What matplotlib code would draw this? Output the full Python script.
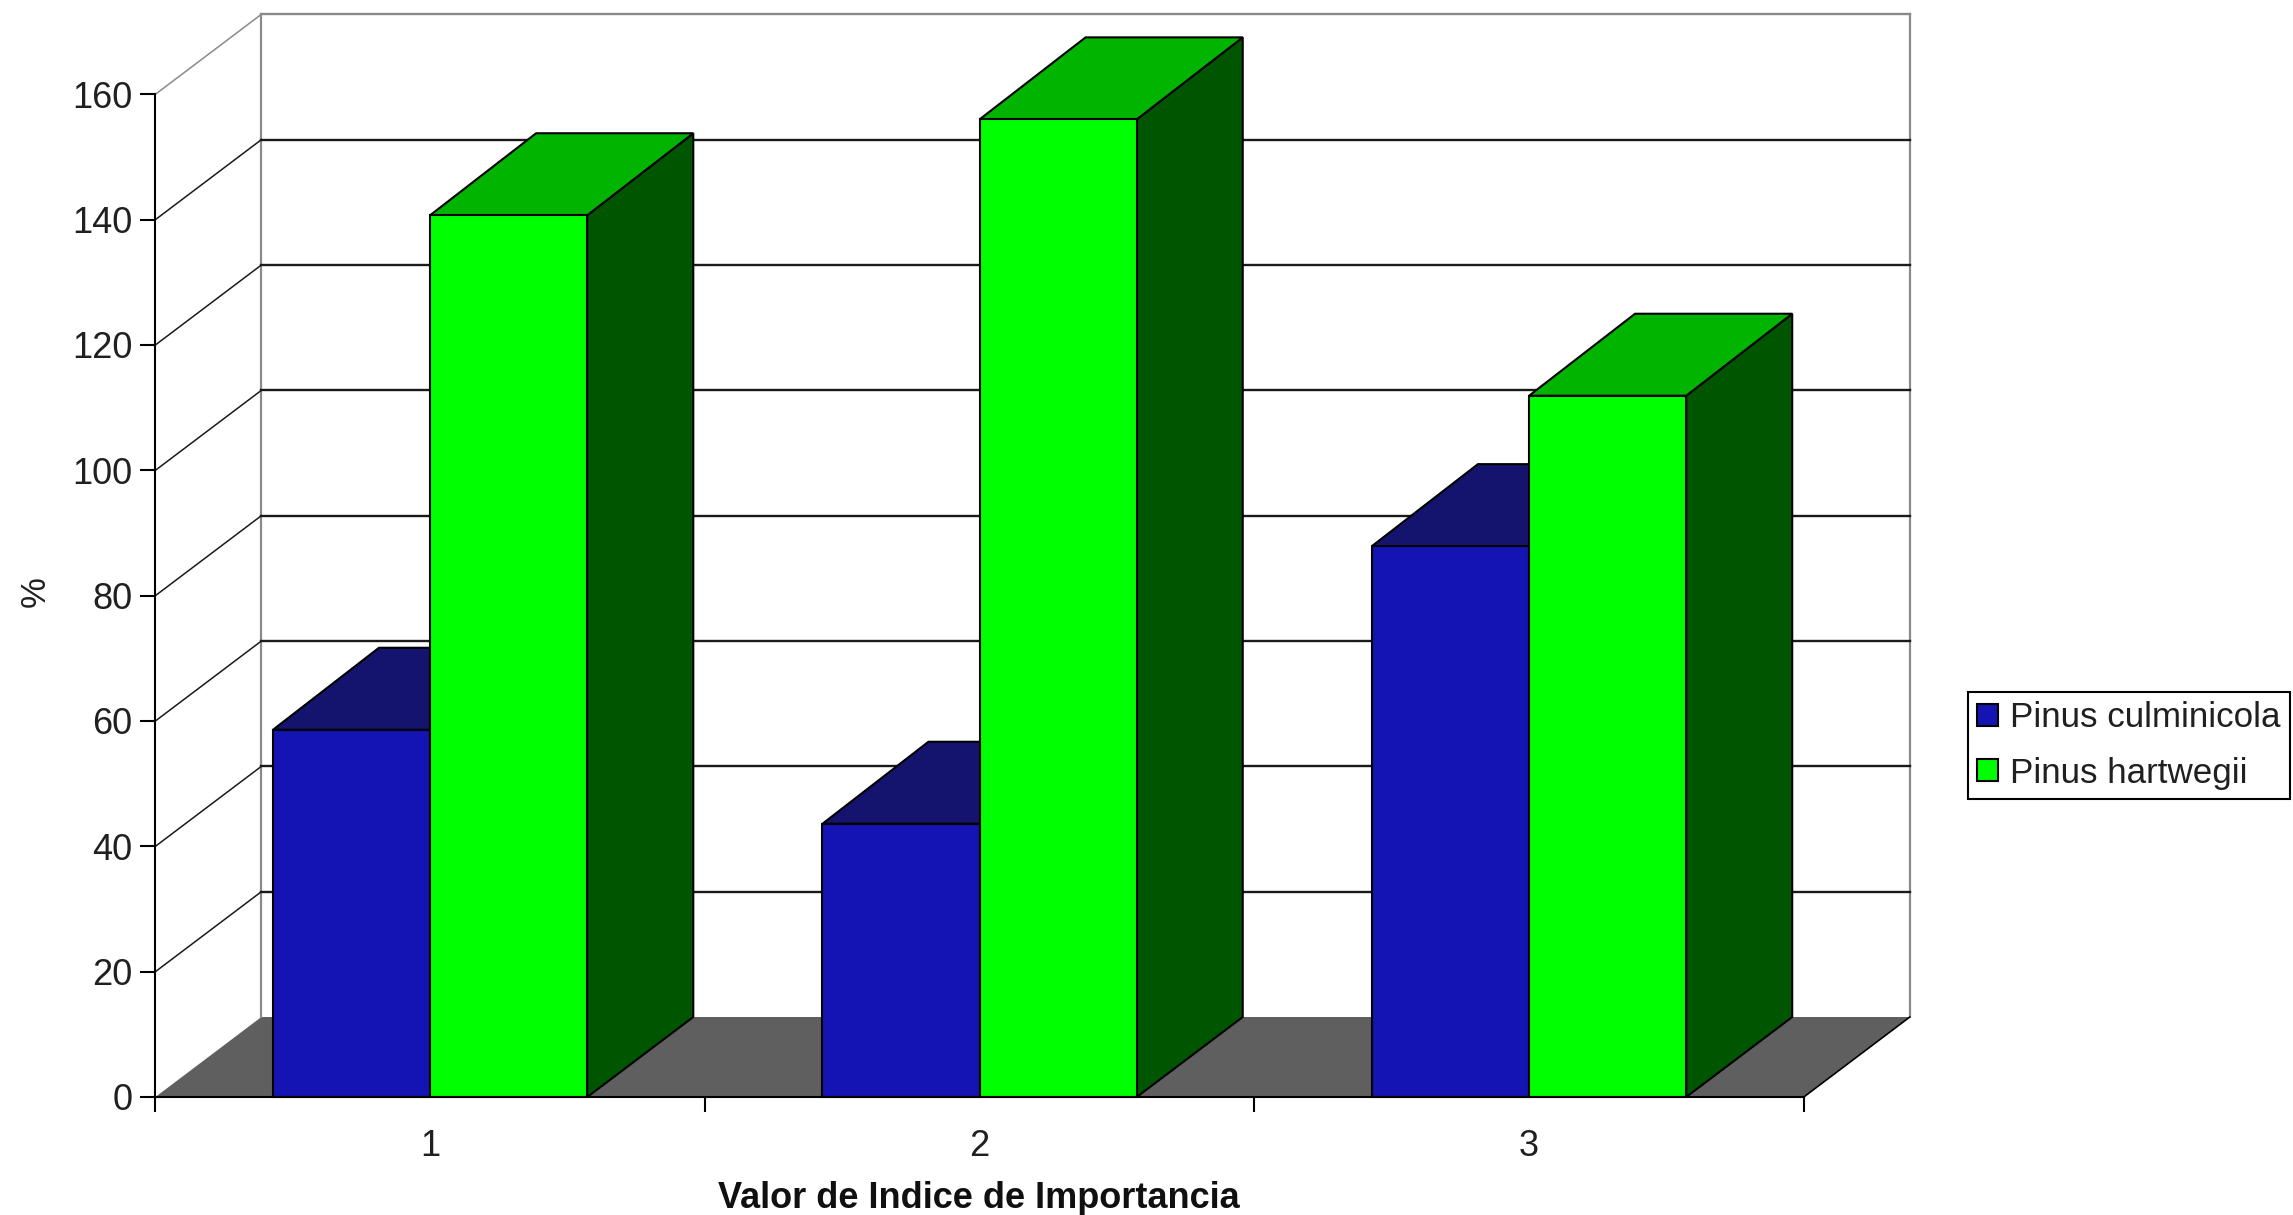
import matplotlib
matplotlib.use("Agg")
import matplotlib.pyplot as plt
from matplotlib.patches import Polygon, Patch
from matplotlib.ticker import FixedLocator, NullFormatter

categories = ["1", "2", "3"]
culminicola = [58.6, 43.6, 87.9]
hartwegii = [140.7, 156.0, 111.9]
y_ticks = [0, 20, 40, 60, 80, 100, 120, 140, 160]
series_names = ["Pinus culminicola", "Pinus hartwegii"]
x_title = "Valor de Indice de Importancia"
y_title = "%"

W, H = 2293, 1215
X0, X1, Y0, Y1 = 155.4, 1803.8, 1097.0, 94.3
DX = 106 / ((X1 - X0) / 3)        # depth offset in category units
DY = 80 / ((Y0 - Y1) / 160)       # depth offset in value units
DY_TOP = 82 / ((Y0 - Y1) / 160)
BAR_W = 0.286
SIDE_GAP = 0.214

BLUE, BLUE_TOP = "#1414B4", "#14146E"
GREEN, GREEN_TOP, GREEN_SIDE = "#00FF00", "#00B400", "#005500"
FLOOR = "#5F5F5F"
GRAY = "#8A8A8A"

plt.rcParams["font.family"] = ["Liberation Sans"]
fig = plt.figure(figsize=(W / 100, H / 100), dpi=100, facecolor="white")
ax = fig.add_axes([X0 / W, 1 - Y0 / H, (X1 - X0) / W, (Y0 - Y1) / H])
ax.set_xlim(0, 3)
ax.set_ylim(0, 160)
ax.patch.set_visible(False)
for s in ("top", "right"):
    ax.spines[s].set_visible(False)
for s in ("left", "bottom"):
    ax.spines[s].set_linewidth(1.5)
    ax.spines[s].set_zorder(6)

# floor and walls
ax.add_patch(Polygon([(0, 0), (3, 0), (3 + DX, DY), (DX, DY)], closed=True,
                     fc=FLOOR, ec="none", clip_on=False, zorder=1))
ax.plot([3, 3 + DX], [0, DY], color="black", lw=1.2, clip_on=False, zorder=1.5)
ax.plot([DX, DX], [DY, 160 + DY], color=GRAY, lw=1.6, clip_on=False, zorder=1)
ax.plot([3 + DX, 3 + DX], [DY, 160 + DY], color=GRAY, lw=1.6, clip_on=False, zorder=1)
for v in y_ticks[1:]:
    c = GRAY if v == y_ticks[-1] else "#1A1A1A"
    ax.plot([DX, 3 + DX], [v + DY, v + DY], color=c, lw=1.7, clip_on=False, zorder=1)
    ax.plot([0, DX], [v, v + DY], color=c, lw=1.1, clip_on=False, zorder=1)


def bar3d(x_left, value, front, top, side, z):
    r = x_left + BAR_W
    ax.add_patch(Polygon([(r, 0), (r, value), (r + DX, value + DY_TOP), (r + DX, DY)],
                         closed=True, fc=side, ec="black", lw=1.5, clip_on=False, zorder=z))
    ax.add_patch(Polygon([(x_left, value), (r, value), (r + DX, value + DY_TOP),
                          (x_left + DX, value + DY_TOP)],
                         closed=True, fc=top, ec="black", lw=1.5, clip_on=False, zorder=z))
    ax.bar(x_left, value, width=BAR_W, align="edge", color=front, edgecolor="black",
           linewidth=1.5, clip_on=False, zorder=z + 0.1)


for i in range(len(categories)):
    bar3d(i + SIDE_GAP, culminicola[i], BLUE, BLUE_TOP, BLUE_TOP, 2 + i)
    bar3d(i + SIDE_GAP + BAR_W, hartwegii[i], GREEN, GREEN_TOP, GREEN_SIDE, 2.5 + i)

ax.set_ylim(0, 160)
ax.set_xlim(0, 3)

# ticks
ax.set_yticks(y_ticks)
ax.set_yticklabels([str(v) for v in y_ticks], fontsize=26, color="#202020")
ax.tick_params(axis="y", length=10.5, width=1.5, pad=6)
ax.xaxis.set_major_locator(FixedLocator(range(len(categories) + 1)))
ax.xaxis.set_major_formatter(NullFormatter())
ax.xaxis.set_minor_locator(FixedLocator([i + 0.5 for i in range(len(categories))]))
ax.set_xticklabels(categories, minor=True, fontsize=26, color="#202020")
ax.tick_params(axis="x", which="major", length=11, width=1.5)
ax.tick_params(axis="x", which="minor", length=0, pad=23)

fig.text(979 / W, 1 - 1198 / H, x_title, ha="center", va="center",
         fontsize=26, fontweight="bold", color="#101010")
fig.text(35 / W, 1 - 592 / H, y_title, ha="center", va="center", rotation=90,
         fontsize=25, color="#202020")

handles = [Patch(fc=BLUE, ec="black", lw=1.5), Patch(fc=GREEN, ec="black", lw=1.5)]
leg = fig.legend(handles, series_names, loc="lower left",
                 bbox_to_anchor=(1968 / W, 1 - 799 / H),
                 bbox_transform=fig.transFigure, fontsize=25.2, frameon=True,
                 fancybox=False, framealpha=1, edgecolor="black", borderaxespad=0,
                 handlelength=0.6, handleheight=0.58, handletextpad=0.32,
                 labelspacing=0.635, borderpad=0.27)
leg.get_frame().set_linewidth(1.5)
for t in leg.get_texts():
    t.set_color("#202020")

fig.savefig("out.png", dpi=100, facecolor="white")
